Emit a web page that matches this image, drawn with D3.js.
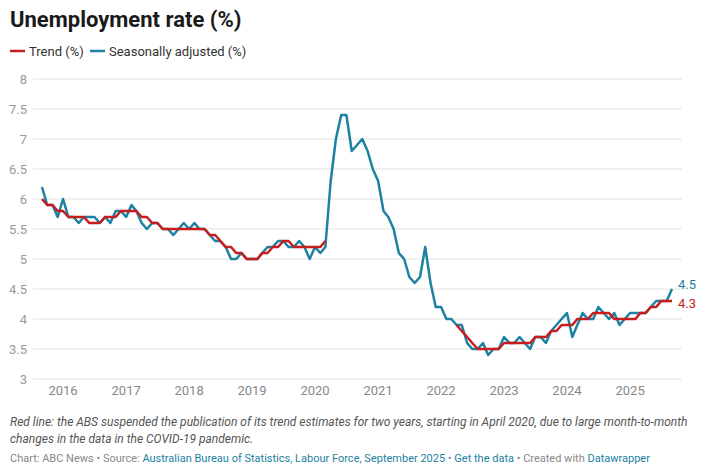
<!DOCTYPE html>
<html>
<head>
<meta charset="utf-8">
<script src="https://cdn.jsdelivr.net/npm/d3@7"></script>
<style>
  body { margin: 0; background: #fff; font-family: Roboto, sans-serif; }
  a { color: #1d81a2; text-decoration: none; }
</style>
</head>
<body>
<svg id="chart"></svg>
<script>
const WIDTH = 716;
const HEIGHT = 472;

// Plot area.
const LEFT = 42;     // first month
const RIGHT = 672;   // last month
const GRID_LEFT = 33;
const GRID_RIGHT = 682;
const TOP = 79;      // y of 8
const BOTTOM = 379;  // y of 3

const BLUE = '#1d81a2';
const RED = '#c71e1d';

// Monthly series, September 2015 to September 2025.
const firstMonth = new Date(2015, 8, 1);

const seasonallyAdjusted = [
  6.2, 5.9, 5.9, 5.7,
  6.0, 5.7, 5.7, 5.6, 5.7, 5.7, 5.7, 5.6, 5.7, 5.6, 5.8, 5.8,
  5.7, 5.9, 5.8, 5.6, 5.5, 5.6, 5.6, 5.5, 5.5, 5.4, 5.5, 5.6,
  5.5, 5.6, 5.5, 5.5, 5.4, 5.3, 5.3, 5.2, 5.0, 5.0, 5.1, 5.0,
  5.0, 5.0, 5.1, 5.2, 5.2, 5.3, 5.3, 5.2, 5.2, 5.3, 5.2, 5.0,
  5.2, 5.1, 5.2, 6.3, 7.0, 7.4, 7.4, 6.8, 6.9, 7.0, 6.8, 6.5,
  6.3, 5.8, 5.7, 5.5, 5.1, 5.0, 4.7, 4.6, 4.7, 5.2, 4.6, 4.2,
  4.2, 4.0, 4.0, 3.9, 3.9, 3.6, 3.5, 3.5, 3.6, 3.4, 3.5, 3.5,
  3.7, 3.6, 3.6, 3.7, 3.6, 3.5, 3.7, 3.7, 3.6, 3.8, 3.9, 4.0,
  4.1, 3.7, 3.9, 4.1, 4.0, 4.0, 4.2, 4.1, 4.0, 4.1, 3.9, 4.0,
  4.1, 4.1, 4.1, 4.1, 4.2, 4.3, 4.3, 4.3, 4.5
];

// null = trend not published (April 2020 to March 2022).
const trend = [
  6.0, 5.9, 5.9, 5.8,
  5.8, 5.7, 5.7, 5.7, 5.7, 5.6, 5.6, 5.6, 5.7, 5.7, 5.7, 5.8,
  5.8, 5.8, 5.8, 5.7, 5.7, 5.6, 5.6, 5.5, 5.5, 5.5, 5.5, 5.5,
  5.5, 5.5, 5.5, 5.5, 5.4, 5.4, 5.3, 5.2, 5.2, 5.1, 5.1, 5.0,
  5.0, 5.0, 5.1, 5.1, 5.2, 5.2, 5.3, 5.3, 5.2, 5.2, 5.2, 5.2,
  5.2, 5.2, 5.3, null, null, null, null, null, null, null, null, null,
  null, null, null, null, null, null, null, null, null, null, null, null,
  null, null, null, 3.9, 3.8, 3.7, 3.6, 3.5, 3.5, 3.5, 3.5, 3.5,
  3.6, 3.6, 3.6, 3.6, 3.6, 3.6, 3.7, 3.7, 3.7, 3.8, 3.8, 3.9,
  3.9, 3.9, 4.0, 4.0, 4.0, 4.1, 4.1, 4.1, 4.1, 4.0, 4.0, 4.0,
  4.0, 4.0, 4.1, 4.1, 4.2, 4.2, 4.3, 4.3, 4.3
];

const yTicks = [3, 3.5, 4, 4.5, 5, 5.5, 6, 6.5, 7, 7.5, 8];
const xTickYears = [2016, 2017, 2018, 2019, 2020, 2021, 2022, 2023, 2024, 2025];

const months = seasonallyAdjusted.map(
  (_, i) => new Date(firstMonth.getFullYear(), firstMonth.getMonth() + i, 1)
);

const xScale = d3.scaleTime()
  .domain([months[0], months[months.length - 1]])
  .range([LEFT, RIGHT]);

const yScale = d3.scaleLinear().domain([3, 8]).range([BOTTOM, TOP]);

const svg = d3.select('#chart').attr('width', WIDTH).attr('height', HEIGHT);

// Title and legend.
svg.append('text')
  .attr('x', 10).attr('y', 27)
  .attr('font-size', 22).attr('font-weight', 700).attr('fill', '#1a1a1a')
  .text('Unemployment rate (%)');

const legend = [
  {label: 'Trend (%)', color: RED, x: 10},
  {label: 'Seasonally adjusted (%)', color: BLUE, x: 90}
];
const legendItems = svg.selectAll('.legend').data(legend).join('g')
  .attr('class', 'legend')
  .attr('transform', d => `translate(${d.x}, 51)`);
legendItems.append('line')
  .attr('x1', 0).attr('x2', 15)
  .attr('stroke', d => d.color).attr('stroke-width', 2.5);
legendItems.append('text')
  .attr('x', 19).attr('dy', '0.35em')
  .attr('font-size', 13).attr('fill', '#333')
  .text(d => d.label);

// Gridlines and y labels.
const yAxis = svg.append('g');
yAxis.selectAll('line').data(yTicks).join('line')
  .attr('x1', GRID_LEFT).attr('x2', GRID_RIGHT)
  .attr('y1', d => yScale(d)).attr('y2', d => yScale(d))
  .attr('stroke', '#e3e3e3').attr('stroke-width', 1);
yAxis.selectAll('text').data(yTicks).join('text')
  .attr('x', 27).attr('y', d => yScale(d)).attr('dy', '0.35em')
  .attr('text-anchor', 'end')
  .attr('font-size', 13).attr('fill', '#999')
  .text(d => d3.format('~g')(d));

// Year labels on the x axis.
svg.append('g').selectAll('text').data(xTickYears).join('text')
  .attr('x', d => xScale(new Date(d, 0, 1)))
  .attr('y', 395)
  .attr('text-anchor', 'middle')
  .attr('font-size', 13).attr('fill', '#888')
  .text(d => d);

// Lines.
const line = d3.line()
  .defined(d => d.value !== null)
  .x(d => xScale(d.date))
  .y(d => yScale(d.value));

const series = [
  {name: 'sa', color: BLUE, values: seasonallyAdjusted},
  {name: 'trend', color: RED, values: trend}
];

svg.append('g').selectAll('path').data(series).join('path')
  .attr('fill', 'none')
  .attr('stroke', d => d.color)
  .attr('stroke-width', 2.5)
  .attr('stroke-linejoin', 'round')
  .attr('d', d => line(d.values.map((value, i) => ({date: months[i], value}))));

// End value labels.
const last = months.length - 1;
svg.append('text')
  .attr('x', xScale(months[last]) + 6)
  .attr('y', yScale(seasonallyAdjusted[last]) - 5).attr('dy', '0.35em')
  .attr('font-size', 13).attr('fill', BLUE)
  .text(seasonallyAdjusted[last]);
svg.append('text')
  .attr('x', xScale(months[last]) + 6)
  .attr('y', yScale(trend[last]) + 2).attr('dy', '0.35em')
  .attr('font-size', 13).attr('fill', RED)
  .text(trend[last]);

// Notes and credits.
const notes = [
  'Red line: the ABS suspended the publication of its trend estimates for two years, starting in April 2020, due to large month-to-month',
  'changes in the data in the COVID-19 pandemic.'
];
svg.append('g').selectAll('text').data(notes).join('text')
  .attr('x', 10).attr('y', (_, i) => 426 + i * 17)
  .attr('font-size', 12).attr('font-style', 'italic').attr('fill', '#555')
  .text(d => d);

const credits = svg.append('text')
  .attr('x', 10).attr('y', 462)
  .attr('font-size', 11).attr('fill', '#888');
const creditParts = [
  {text: 'Chart: ABC News • Source: ', link: false},
  {text: 'Australian Bureau of Statistics, Labour Force, September 2025', link: true},
  {text: ' • ', link: false},
  {text: 'Get the data', link: true},
  {text: ' • Created with ', link: false},
  {text: 'Datawrapper', link: true}
];
credits.selectAll('tspan').data(creditParts).join('tspan')
  .attr('fill', d => d.link ? BLUE : '#888')
  .text(d => d.text);
</script>
</body>
</html>
